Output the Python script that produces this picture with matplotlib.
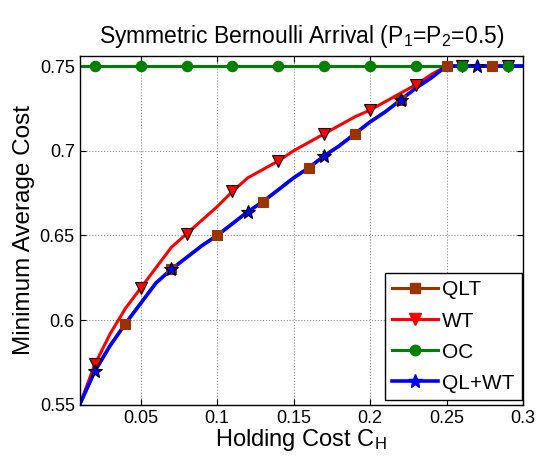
import numpy as np
import matplotlib
matplotlib.use("Agg")
import matplotlib.pyplot as plt
from matplotlib.lines import Line2D

plt.rcParams['font.family'] = ['Liberation Sans', 'DejaVu Sans']
plt.rcParams['mathtext.fontset'] = 'custom'
plt.rcParams['mathtext.rm'] = 'Liberation Sans'
plt.rcParams['mathtext.default'] = 'rm'

# holding cost grid
h = [0.01, 0.02, 0.03, 0.04, 0.05, 0.06, 0.07, 0.08, 0.09, 0.10,
     0.11, 0.12, 0.13, 0.14, 0.15, 0.16, 0.17, 0.18, 0.19, 0.20,
     0.21, 0.22, 0.23, 0.24, 0.25, 0.26, 0.27, 0.28, 0.29, 0.30]

qlt = [0.550, 0.570, 0.585, 0.598, 0.610, 0.622, 0.630, 0.637, 0.644, 0.650,
       0.657, 0.664, 0.670, 0.677, 0.684, 0.690, 0.697, 0.703, 0.710, 0.717,
       0.723, 0.730, 0.737, 0.743, 0.750, 0.750, 0.750, 0.750, 0.750, 0.750]
wt = [0.550, 0.574, 0.592, 0.607, 0.619, 0.631, 0.643, 0.651, 0.659, 0.667,
      0.676, 0.684, 0.689, 0.694, 0.700, 0.705, 0.710, 0.715, 0.720, 0.724,
      0.729, 0.734, 0.739, 0.745, 0.750, 0.750, 0.750, 0.750, 0.750, 0.750]
oc = [0.75] * 30
qlwt = [0.550, 0.570, 0.585, 0.598, 0.610, 0.622, 0.630, 0.637, 0.644, 0.650,
        0.657, 0.664, 0.670, 0.677, 0.684, 0.690, 0.697, 0.703, 0.710, 0.717,
        0.723, 0.730, 0.737, 0.743, 0.750, 0.750, 0.750, 0.750, 0.750, 0.750]

labels = ['QLT', 'WT', 'OC', 'QL+WT']
series = [qlt, wt, oc, qlwt]
colors = [(0.6, 0.2, 0.0), (1, 0, 0), (0, 0.5, 0), (0, 0, 1)]
markers = ['s', 'v', 'o', '*']
msizes = [6.5, 9, 7.5, 10.5]
medges = [(0.6, 0.2, 0.0), 'k', (0, 0.5, 0), 'k']
lwidths = [2.2, 2.2, 2.2, 2.6]
# markers placed every 3rd / 5th sample like the original
mark_idx = [list(range(3, 30, 3)), list(range(1, 30, 3)),
            list(range(1, 30, 3)), list(range(1, 30, 5))]

fig = plt.figure(figsize=(5.38, 4.58), dpi=100)
ax = fig.add_axes([0.148, 0.116, 0.824, 0.762])

x = np.array(h)
for y, c, lw in zip(series, colors, lwidths):
    ax.plot(x, y, color=c, lw=lw, zorder=2, solid_joinstyle='round')
for y, c, m, ms, me, idx in zip(series, colors, markers, msizes, medges, mark_idx):
    yy = np.array(y)
    ax.plot(x[idx], yy[idx], ls='none', marker=m, ms=ms, mfc=c, mec=me,
            mew=0.8, zorder=3, clip_on=False)

ax.set_xlim(0.01, 0.3)
ax.set_ylim(0.55, 0.756)
ax.set_xticks([0.05, 0.1, 0.15, 0.2, 0.25, 0.3])
ax.set_xticklabels(['0.05', '0.1', '0.15', '0.2', '0.25', '0.3'])
ax.set_yticks([0.55, 0.6, 0.65, 0.7, 0.75])
ax.set_yticklabels(['0.55', '0.6', '0.65', '0.7', '0.75'])
ax.tick_params(direction='in', top=True, right=True, labelsize=13, length=4)
ax.grid(True, ls=':', color='0.55', lw=0.8)
for s in ax.spines.values():
    s.set_linewidth(1.0)

ax.set_title('Symmetric Bernoulli Arrival (P$_1$=P$_2$=0.5)', fontsize=16.5, pad=9)
ax.set_xlabel('Holding Cost C$_H$', fontsize=17, labelpad=0)
ax.set_ylabel('Minimum Average Cost', fontsize=17.5, labelpad=3)

handles = [Line2D([], [], color=c, lw=lw, marker=m, ms=ms, mfc=c, mec=c)
           for c, lw, m, ms in zip(colors, lwidths, markers, msizes)]
leg = ax.legend(handles, labels, loc='lower right', fontsize=15,
                bbox_to_anchor=(0.997, 0.014),
                fancybox=False, edgecolor='k', framealpha=1,
                handlelength=2.2, handletextpad=0.2, borderpad=0.35,
                labelspacing=0.58, borderaxespad=0)
leg.get_frame().set_linewidth(1.0)
leg.set_zorder(5)

fig.savefig('out.png', dpi=100)
